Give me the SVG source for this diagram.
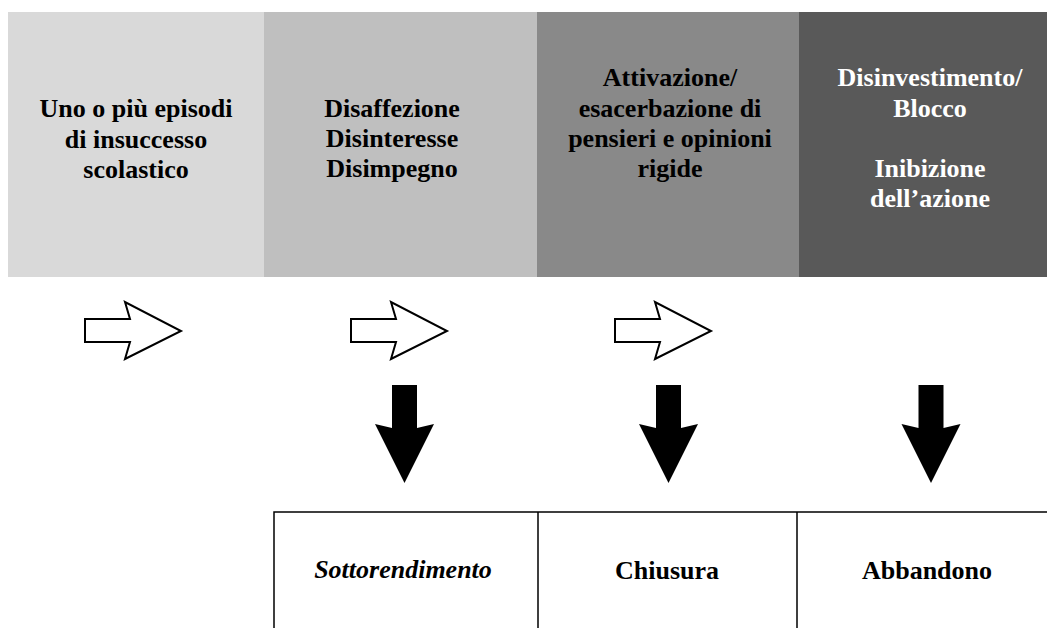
<svg xmlns="http://www.w3.org/2000/svg" width="1047" height="628" viewBox="0 0 1047 628">
<style>
text{font-size:26px;font-weight:bold;text-anchor:middle;fill:#000}
.w{fill:#fff}
.it{font-style:italic}
.hollow{fill:#fff;stroke:#000;stroke-width:2;stroke-linejoin:miter}
.solid{fill:#000}
.cell{fill:none;stroke:#000;stroke-width:1.5}
</style>
<defs>
<polygon id="ha" class="hollow" points="0,0 45,0 40,-17 96,12 40,40 45,23 0,23"/>
<polygon id="da" class="solid" points="-12.5,0 12.5,0 12.5,43 29.5,39 0,98 -29.5,39 -12.5,43"/>
</defs>
<rect width="1047" height="628" fill="#fff"/>
<g font-family="'Liberation Serif', 'DejaVu Serif', serif">
<g id="node-1"><rect x="8" y="12" width="256" height="265" fill="#d9d9d9"/>
<text x="136" y="117">Uno o più episodi</text><text x="136" y="148">di insuccesso</text><text x="136" y="178">scolastico</text></g>
<g id="node-2"><rect x="264" y="12" width="273" height="265" fill="#bfbfbf"/>
<text x="392" y="117">Disaffezione</text><text x="392" y="147">Disinteresse</text><text x="392" y="177">Disimpegno</text></g>
<g id="node-3"><rect x="537" y="12" width="262" height="265" fill="#898989"/>
<text x="670" y="86">Attivazione/</text><text x="670" y="117">esacerbazione di</text><text x="670" y="147">pensieri e opinioni</text><text x="670" y="177">rigide</text></g>
<g id="node-4"><rect x="799" y="12" width="248" height="265" fill="#595959"/>
<text class="w" x="930" y="86">Disinvestimento/</text><text class="w" x="930" y="117">Blocco</text><text class="w" x="930" y="177">Inibizione</text><text class="w" x="930" y="207">dell’azione</text></g>
<g id="connectors">
<use href="#ha" x="85" y="319"/>
<use href="#ha" x="351" y="319"/>
<use href="#ha" x="615" y="319"/>
<use href="#da" x="404.5" y="385"/>
<use href="#da" x="668.5" y="385"/>
<use href="#da" x="931" y="385"/>
</g>
<g id="bottom-cells">
<path class="cell" d="M274,628 V512 H1047 M538,512 V628 M797,512 V628"/>
</g>
<g id="node-5"><text class="it" x="403" y="578">Sottorendimento</text></g>
<g id="node-6"><text x="667" y="579">Chiusura</text></g>
<g id="node-7"><text x="927" y="579">Abbandono</text></g>
</g>
</svg>
